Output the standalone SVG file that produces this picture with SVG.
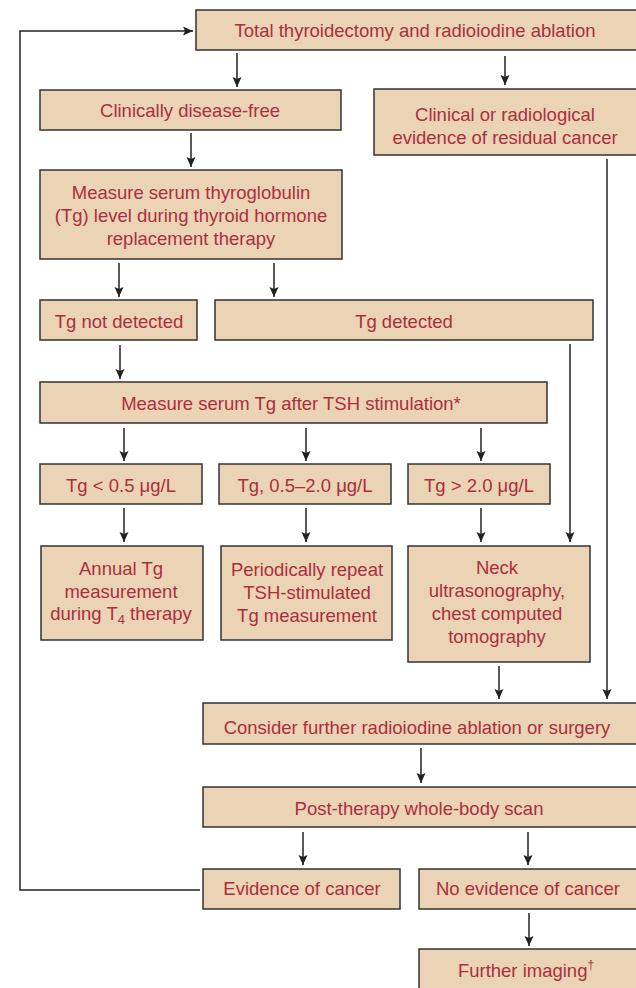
<svg xmlns="http://www.w3.org/2000/svg" width="636" height="988" viewBox="0 0 636 988">
<defs>
<style>
.b{fill:#ebd3b6;stroke:#333;stroke-width:1.5}
.t{font-family:"Liberation Sans",Arial,sans-serif;font-size:18.5px;fill:#ab2f3d;text-anchor:middle}
.c{fill:none;stroke:#222;stroke-width:1.5}
</style>
<marker id="ah" markerUnits="userSpaceOnUse" markerWidth="10" markerHeight="11" refX="10" refY="4.5" orient="auto">
<path d="M0,0 L10,4.5 L0,9 L2,4.5 Z" fill="#222"/>
</marker>
</defs>
<rect width="636" height="988" fill="#fff"/>
<g id="connectors">
<path class="c" marker-end="url(#ah)" d="M237,53 V87"/>
<path class="c" marker-end="url(#ah)" d="M505,56 V85"/>
<path class="c" marker-end="url(#ah)" d="M191,133 V167"/>
<path class="c" marker-end="url(#ah)" d="M119,263 V297"/>
<path class="c" marker-end="url(#ah)" d="M274,263 V297"/>
<path class="c" marker-end="url(#ah)" d="M120,345 V379"/>
<path class="c" marker-end="url(#ah)" d="M124,428 V461"/>
<path class="c" marker-end="url(#ah)" d="M306,428 V461"/>
<path class="c" marker-end="url(#ah)" d="M481,428 V461"/>
<path class="c" marker-end="url(#ah)" d="M124,508 V542"/>
<path class="c" marker-end="url(#ah)" d="M306,508 V542"/>
<path class="c" marker-end="url(#ah)" d="M481,508 V542"/>
<path class="c" marker-end="url(#ah)" d="M570,344 V542"/>
<path class="c" marker-end="url(#ah)" d="M607,159 V699"/>
<path class="c" marker-end="url(#ah)" d="M499,666 V699"/>
<path class="c" marker-end="url(#ah)" d="M421,748 V783"/>
<path class="c" marker-end="url(#ah)" d="M303,832 V865"/>
<path class="c" marker-end="url(#ah)" d="M528,832 V865"/>
<path class="c" marker-end="url(#ah)" d="M529,913 V946"/>
<path class="c" marker-end="url(#ah)" d="M200,890 H20 V31 H193"/>
</g>
<g id="n1"><rect class="b" x="196" y="10" width="450" height="40"/><text class="t" x="415" y="37">Total thyroidectomy and radioiodine ablation</text></g>
<g id="n2"><rect class="b" x="40" y="90" width="301" height="40"/><text class="t" x="190" y="117">Clinically disease-free</text></g>
<g id="n3"><rect class="b" x="374" y="89" width="272" height="66"/><text class="t" x="505" y="121">Clinical or radiological</text><text class="t" x="505" y="144">evidence of residual cancer</text></g>
<g id="n4"><rect class="b" x="40" y="170" width="302" height="89"/><text class="t" x="191" y="199">Measure serum thyroglobulin</text><text class="t" x="191" y="222">(Tg) level during thyroid hormone</text><text class="t" x="191" y="245">replacement therapy</text></g>
<g id="n5"><rect class="b" x="40" y="300" width="157" height="40"/><text class="t" x="119" y="328">Tg not detected</text></g>
<g id="n6"><rect class="b" x="215" y="300" width="378" height="40"/><text class="t" x="404" y="328">Tg detected</text></g>
<g id="n7"><rect class="b" x="40" y="382" width="507" height="41"/><text class="t" x="291" y="410">Measure serum Tg after TSH stimulation*</text></g>
<g id="n8"><rect class="b" x="40" y="464" width="162" height="40"/><text class="t" x="121" y="492">Tg &lt; 0.5 μg/L</text></g>
<g id="n9"><rect class="b" x="219" y="464" width="172" height="40"/><text class="t" x="305" y="492">Tg, 0.5–2.0 μg/L</text></g>
<g id="n10"><rect class="b" x="408" y="464" width="142" height="40"/><text class="t" x="479" y="492">Tg &gt; 2.0 μg/L</text></g>
<g id="n11"><rect class="b" x="41" y="546" width="162" height="94"/><text class="t" x="121" y="575">Annual Tg</text><text class="t" x="121" y="598">measurement</text><text class="t" x="121" y="620">during T<tspan dy="4" font-size="13">4</tspan><tspan dy="-4"> therapy</tspan></text></g>
<g id="n12"><rect class="b" x="221" y="546" width="171" height="94"/><text class="t" x="307" y="576">Periodically repeat</text><text class="t" x="307" y="599">TSH-stimulated</text><text class="t" x="307" y="622">Tg measurement</text></g>
<g id="n13"><rect class="b" x="408" y="546" width="182" height="116"/><text class="t" x="497" y="574">Neck</text><text class="t" x="497" y="597">ultrasonography,</text><text class="t" x="497" y="620">chest computed</text><text class="t" x="497" y="643">tomography</text></g>
<g id="n14"><rect class="b" x="203" y="703" width="443" height="41"/><text class="t" x="417" y="734">Consider further radioiodine ablation or surgery</text></g>
<g id="n15"><rect class="b" x="203" y="787" width="443" height="40"/><text class="t" x="419" y="815">Post-therapy whole-body scan</text></g>
<g id="n16"><rect class="b" x="203" y="869" width="197" height="40"/><text class="t" x="302" y="895">Evidence of cancer</text></g>
<g id="n17"><rect class="b" x="419" y="869" width="227" height="40"/><text class="t" x="528" y="895">No evidence of cancer</text></g>
<g id="n18"><rect class="b" x="419" y="949" width="227" height="50"/><text class="t" x="526" y="977">Further imaging<tspan dy="-8" font-size="12">†</tspan></text></g>
</svg>
